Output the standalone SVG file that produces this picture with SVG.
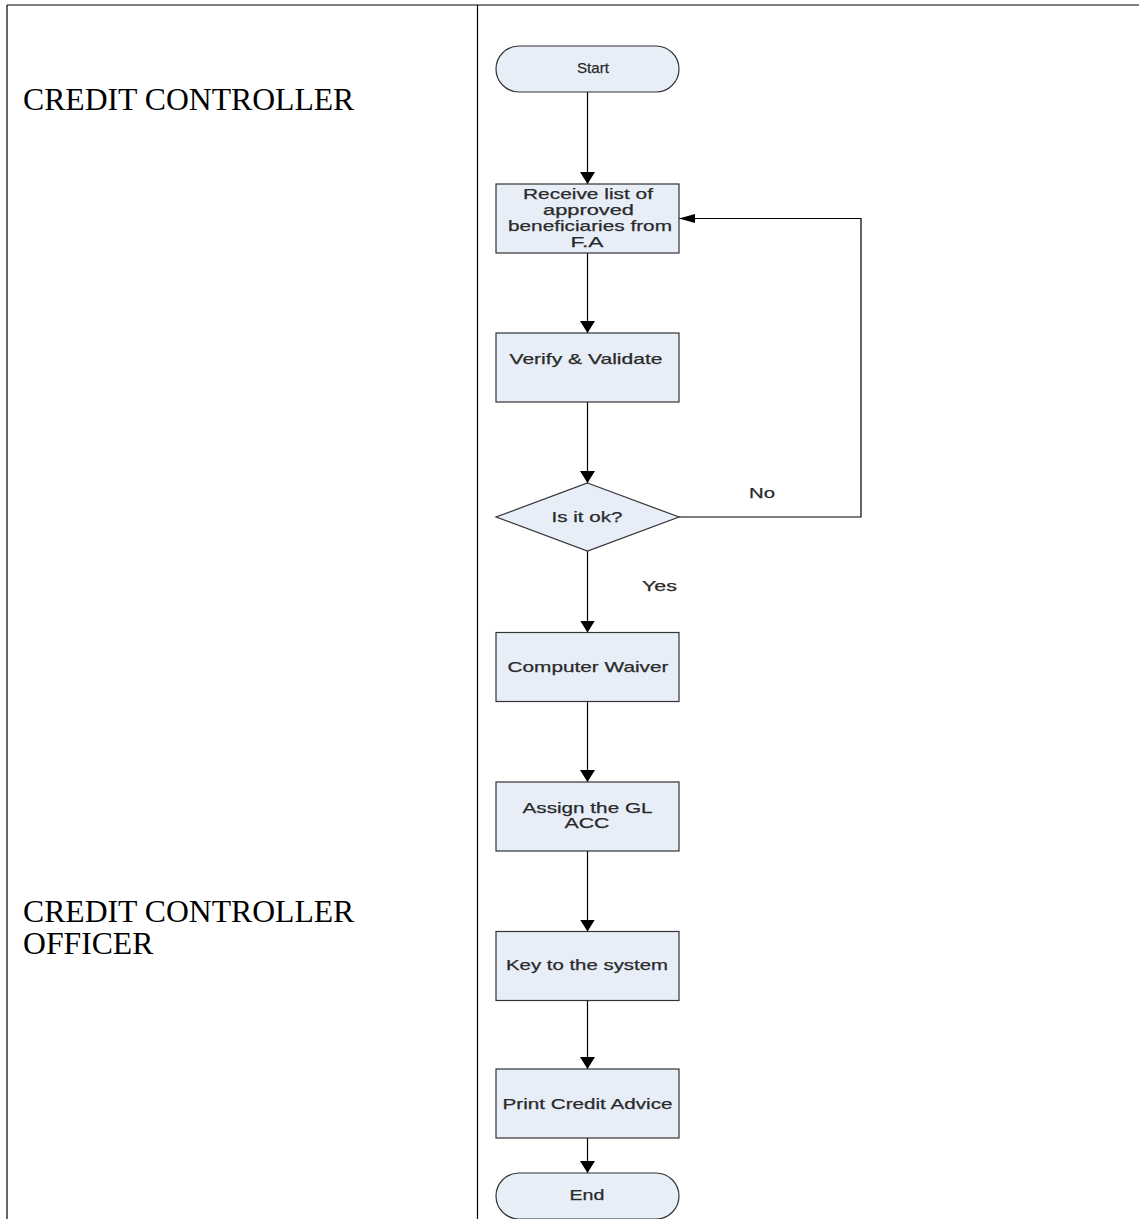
<svg xmlns="http://www.w3.org/2000/svg" width="1139" height="1219" viewBox="0 0 1139 1219">
<style>
  .grid { stroke:#000; stroke-width:1.2; fill:none; }
  .lane { font-family:"Liberation Serif","Times New Roman",serif; font-size:31.7px; fill:#000; }
  .shape { fill:#E8EEF8; stroke:#333; stroke-width:1.2; }
  .t { font-family:"Liberation Sans",Arial,sans-serif; font-size:15px; fill:#2a2a2a; stroke:#2a2a2a; stroke-width:0.25; text-anchor:middle; }
  .lbl { font-family:"Liberation Sans",Arial,sans-serif; font-size:15px; fill:#2a2a2a; stroke:#2a2a2a; stroke-width:0.25; }
  .conn { stroke:#000; stroke-width:1.2; fill:none; }
</style>
<defs>
  <marker id="arrV" viewBox="0 0 12 15" markerWidth="12" markerHeight="15" refX="12" refY="7.5" orient="auto" markerUnits="userSpaceOnUse">
    <path d="M0,0 L12,7.5 L0,15 z" fill="#000"/>
  </marker>
  <marker id="arrH" viewBox="0 0 16 9" markerWidth="16" markerHeight="9" refX="16" refY="4.5" orient="auto" markerUnits="userSpaceOnUse">
    <path d="M0,0 L16,4.5 L0,9 z" fill="#000"/>
  </marker>
</defs>
<rect width="1139" height="1219" fill="#fff"/>
<g id="table">
  <line class="grid" x1="7" y1="5" x2="1139" y2="5"/>
  <line class="grid" x1="7" y1="5" x2="7" y2="1219"/>
  <line class="grid" x1="477.5" y1="5" x2="477.5" y2="1219"/>
  <text class="lane" x="23" y="110">CREDIT CONTROLLER</text>
  <text class="lane" x="23" y="922">CREDIT CONTROLLER</text>
  <text class="lane" x="23" y="954">OFFICER</text>
</g>
<g id="connectors">
  <line class="conn" x1="587.5" y1="92" x2="587.5" y2="184" marker-end="url(#arrV)"/>
  <line class="conn" x1="587.5" y1="253" x2="587.5" y2="333" marker-end="url(#arrV)"/>
  <line class="conn" x1="587.5" y1="402" x2="587.5" y2="483" marker-end="url(#arrV)"/>
  <line class="conn" x1="587.5" y1="551" x2="587.5" y2="632.5" marker-end="url(#arrV)"/>
  <line class="conn" x1="587.5" y1="701.5" x2="587.5" y2="782" marker-end="url(#arrV)"/>
  <line class="conn" x1="587.5" y1="851" x2="587.5" y2="931.5" marker-end="url(#arrV)"/>
  <line class="conn" x1="587.5" y1="1000.5" x2="587.5" y2="1069" marker-end="url(#arrV)"/>
  <line class="conn" x1="587.5" y1="1138" x2="587.5" y2="1173" marker-end="url(#arrV)"/>
  <polyline class="conn" points="679,517 861,517 861,218.5 679,218.5" marker-end="url(#arrH)"/>
  <text class="lbl" x="749" y="498" textLength="26" lengthAdjust="spacingAndGlyphs">No</text>
  <text class="lbl" x="642" y="591" textLength="35" lengthAdjust="spacingAndGlyphs">Yes</text>
</g>
<g id="start">
  <rect class="shape" x="496" y="46" width="183" height="46" rx="23" ry="23"/>
  <text class="t" x="593" y="73" textLength="32" lengthAdjust="spacingAndGlyphs">Start</text>
</g>
<g id="receive">
  <rect class="shape" x="496" y="184" width="183" height="69"/>
  <text class="t" x="588" y="199" textLength="130" lengthAdjust="spacingAndGlyphs">Receive list of</text>
  <text class="t" x="588.5" y="215" textLength="91" lengthAdjust="spacingAndGlyphs">approved</text>
  <text class="t" x="590" y="231" textLength="164" lengthAdjust="spacingAndGlyphs">beneficiaries from</text>
  <text class="t" x="587" y="247" textLength="33" lengthAdjust="spacingAndGlyphs">F.A</text>
</g>
<g id="verify">
  <rect class="shape" x="496" y="333" width="183" height="69"/>
  <text class="t" x="586" y="364" textLength="153" lengthAdjust="spacingAndGlyphs">Verify &amp; Validate</text>
</g>
<g id="decision">
  <polygon class="shape" points="587.5,483 679,517 587.5,551 496,517"/>
  <text class="t" x="587" y="522" textLength="71" lengthAdjust="spacingAndGlyphs">Is it ok?</text>
</g>
<g id="waiver">
  <rect class="shape" x="496" y="632.5" width="183" height="69"/>
  <text class="t" x="588" y="671.5" textLength="161" lengthAdjust="spacingAndGlyphs">Computer Waiver</text>
</g>
<g id="assign">
  <rect class="shape" x="496" y="782" width="183" height="69"/>
  <text class="t" x="587.5" y="813" textLength="130" lengthAdjust="spacingAndGlyphs">Assign the GL</text>
  <text class="t" x="587" y="828" textLength="45" lengthAdjust="spacingAndGlyphs">ACC</text>
</g>
<g id="key">
  <rect class="shape" x="496" y="931.5" width="183" height="69"/>
  <text class="t" x="587" y="970" textLength="162" lengthAdjust="spacingAndGlyphs">Key to the system</text>
</g>
<g id="print">
  <rect class="shape" x="496" y="1069" width="183" height="69"/>
  <text class="t" x="587.5" y="1109" textLength="170" lengthAdjust="spacingAndGlyphs">Print Credit Advice</text>
</g>
<g id="end">
  <rect class="shape" x="496" y="1173" width="183" height="46" rx="23" ry="23"/>
  <text class="t" x="587" y="1200" textLength="35" lengthAdjust="spacingAndGlyphs">End</text>
</g>
</svg>
